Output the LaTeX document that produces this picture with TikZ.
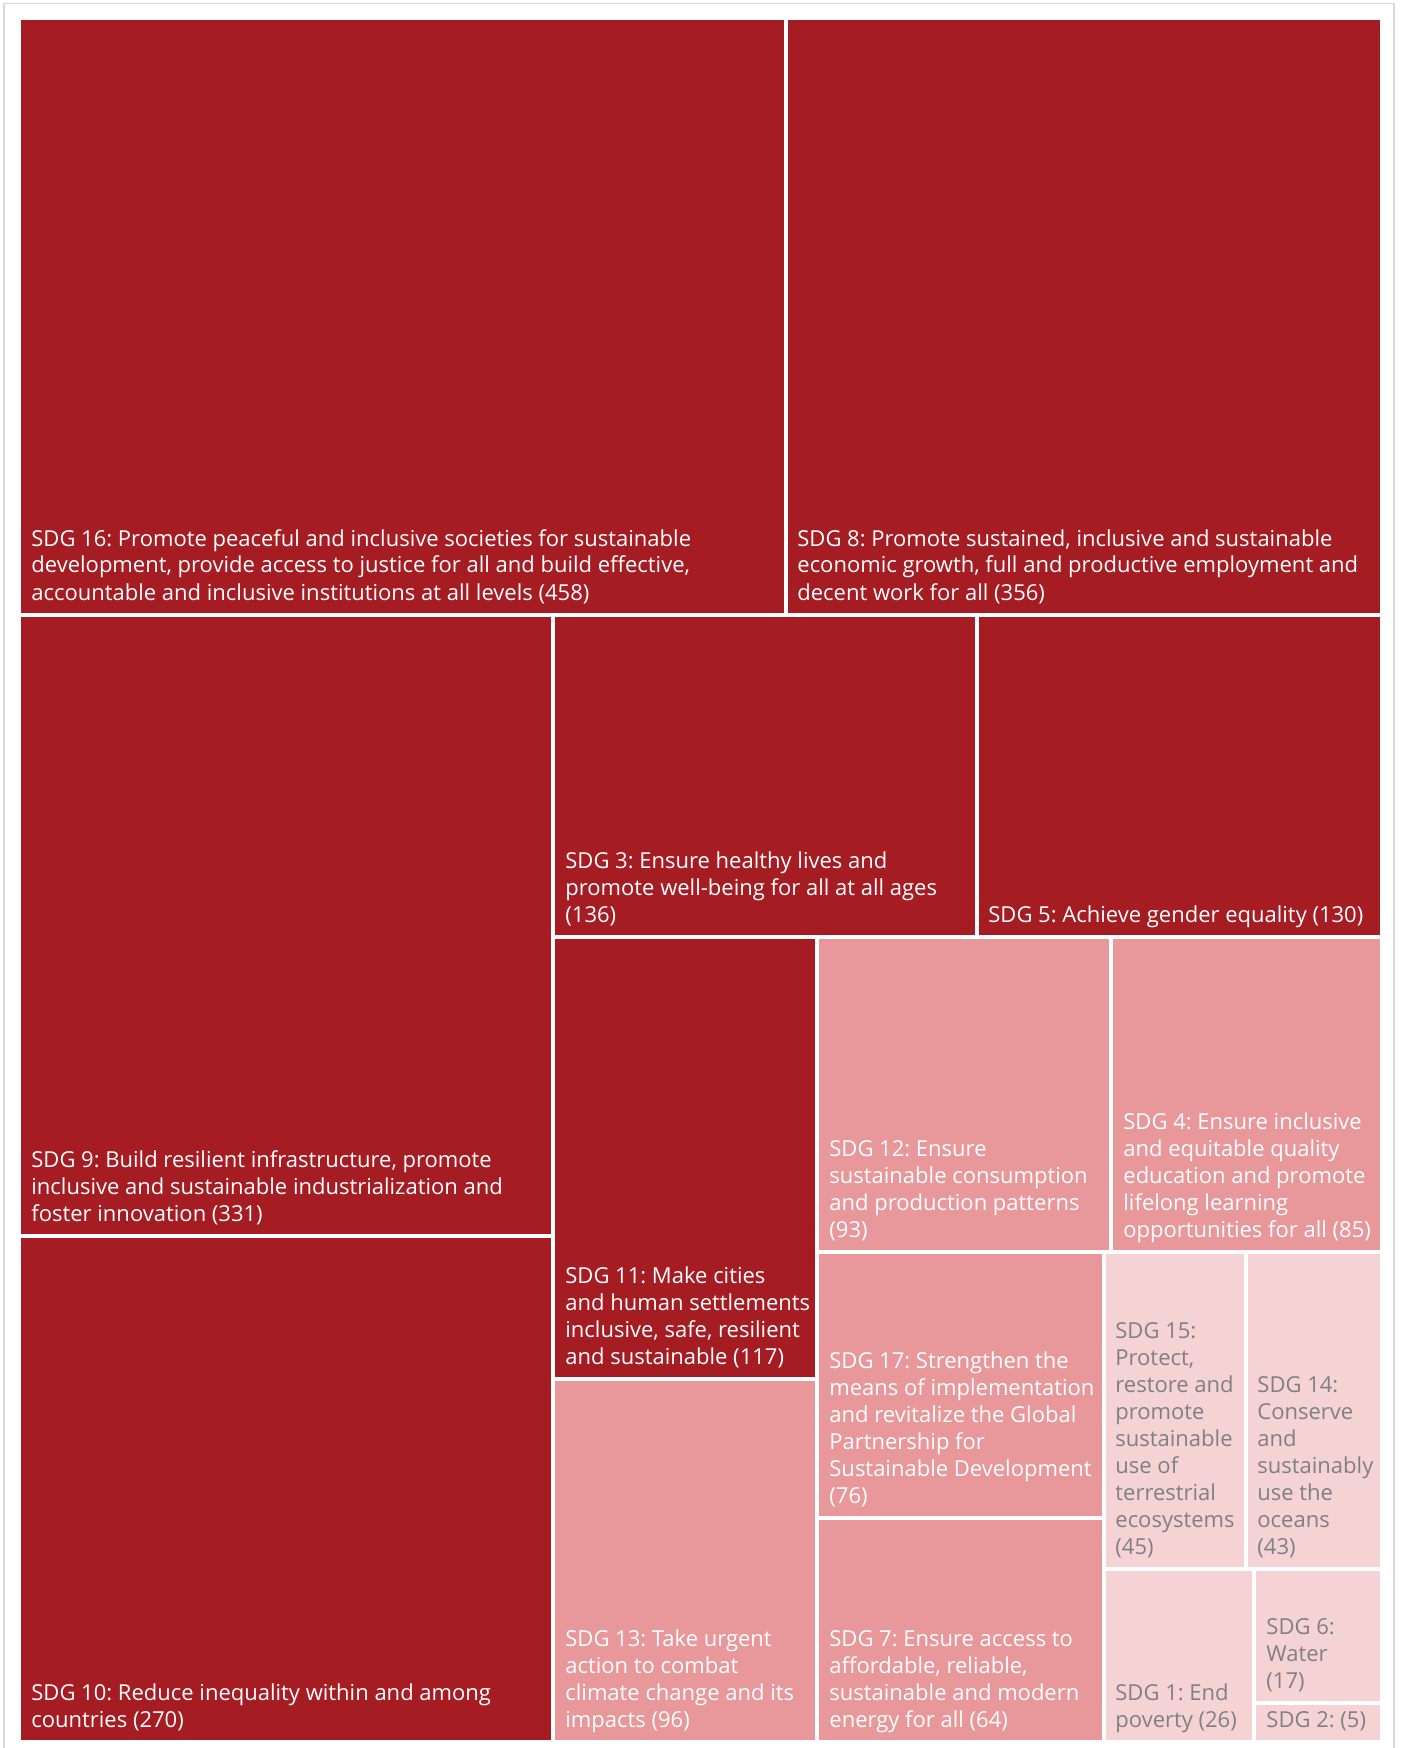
\documentclass[tikz,border=0pt]{standalone}
\usepackage{fontspec}
\setmainfont{Open Sans}
\usepackage{xcolor}
\usepackage{tikz}
\definecolor{sdgdark}{HTML}{A51D22}
\definecolor{sdgmid}{HTML}{E8989A}
\definecolor{sdglight}{HTML}{F5D3D5}
\definecolor{sdggrey}{HTML}{808080}
\definecolor{framegrey}{HTML}{D9D9D9}
\tikzstyle{dark} = [fill=sdgdark, draw=white, line width=2pt]
\tikzstyle{mid} = [fill=sdgmid, draw=white, line width=2pt]
\tikzstyle{light} = [fill=sdglight, draw=white, line width=2pt]
\tikzstyle{txt} = [anchor=south west, inner sep=0pt, align=left, text=white, font=\fontsize{11}{13.5}\selectfont\frenchspacing]
\tikzstyle{txtgrey} = [txt, text=sdggrey]

\begin{document}
\begin{tikzpicture}[x=0.5pt, y=-0.5pt]
\useasboundingbox (0,0) rectangle (1402,1748);
\draw[framegrey, line width=0.75pt] (4,1748) -- (4,3.5) -- (1394,3.5) -- (1394,1748);

% top row
\draw[dark] (19,18) rectangle (785.5,615);
\node (sdg16) [txt] at (31,608.5) {SDG 16: Promote peaceful and inclusive societies for sustainable\\development, provide access to justice for all and build effective,\\accountable and inclusive institutions at all levels (458)\strut};
\draw[dark] (785.5,18) rectangle (1381.5,615);
\node (sdg8) [txt] at (797,608.5) {SDG 8: Promote sustained, inclusive and sustainable\\economic growth, full and productive employment and\\decent work for all (356)\strut};

% left column
\draw[dark] (19,615) rectangle (553,1236);
\node (sdg9) [txt] at (31,1229.5) {SDG 9: Build resilient infrastructure, promote\\inclusive and sustainable industrialization and\\foster innovation (331)\strut};
\draw[dark] (19,1236) rectangle (553,1742);
\node (sdg10) [txt] at (31,1735.5) {SDG 10: Reduce inequality within and among\\countries (270)\strut};

% middle
\draw[dark] (553,615) rectangle (976.5,937);
\node (sdg3) [txt] at (565,930.5) {SDG 3: Ensure healthy lives and\\promote well-being for all at all ages\\(136)\strut};
\draw[dark] (976.5,615) rectangle (1381.5,937);
\node (sdg5) [txt] at (988,930.5) {SDG 5: Achieve gender equality (130)\strut};
\draw[dark] (553,937) rectangle (817,1379);
\node (sdg11) [txt] at (565,1372.5) {SDG 11: Make cities\\and human settlements\\inclusive, safe, resilient\\and sustainable (117)\strut};
\draw[mid] (553,1379) rectangle (817,1742);
\node (sdg13) [txt] at (565,1735.5) {SDG 13: Take urgent\\action to combat\\climate change and its\\impacts (96)\strut};

% right block
\draw[mid] (817,937) rectangle (1111,1252);
\node (sdg12) [txt] at (829,1245.5) {SDG 12: Ensure\\sustainable consumption\\and production patterns\\(93)\strut};
\draw[mid] (1111,937) rectangle (1381.5,1252);
\node (sdg4) [txt] at (1123,1245.5) {SDG 4: Ensure inclusive\\and equitable quality\\education and promote\\lifelong learning\\opportunities for all (85)\strut};
\draw[mid] (817,1252) rectangle (1104,1518);
\node (sdg17) [txt] at (829,1511.5) {SDG 17: Strengthen the\\means of implementation\\and revitalize the Global\\Partnership for\\Sustainable Development\\(76)\strut};
\draw[mid] (817,1518) rectangle (1104,1742);
\node (sdg7) [txt] at (829,1735.5) {SDG 7: Ensure access to\\affordable, reliable,\\sustainable and modern\\energy for all (64)\strut};

% small ones
\draw[light] (1104,1252) rectangle (1245.5,1569);
\node (sdg15) [txtgrey] at (1115,1562.5) {SDG 15:\\Protect,\\restore and\\promote\\sustainable\\use of\\terrestrial\\ecosystems\\(45)\strut};
\draw[light] (1245.5,1252) rectangle (1381.5,1569);
\node (sdg14) [txtgrey] at (1257,1562.5) {SDG 14:\\Conserve\\and\\sustainably\\use the\\oceans\\(43)\strut};
\draw[light] (1104,1569) rectangle (1254,1742);
\node (sdg1) [txtgrey] at (1115,1735.5) {SDG 1: End\\poverty (26)\strut};
\draw[light] (1254,1569) rectangle (1381.5,1703);
\node (sdg6) [txtgrey] at (1266,1696.5) {SDG 6:\\Water\\(17)\strut};
\draw[light] (1254,1703) rectangle (1381.5,1742);
\node (sdg2) [txtgrey] at (1266,1735.5) {SDG 2: (5)\strut};

\end{tikzpicture}
\end{document}
